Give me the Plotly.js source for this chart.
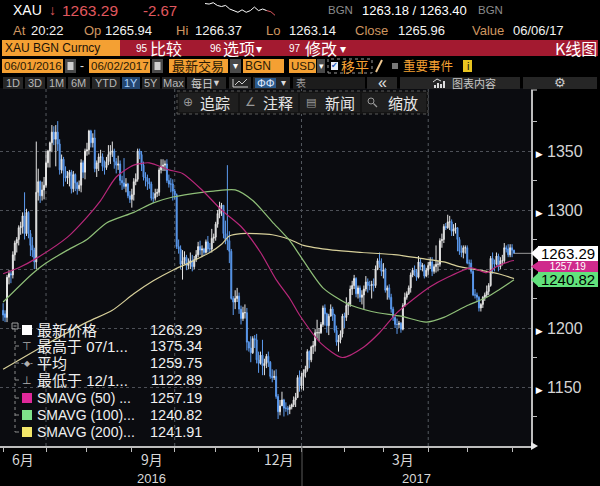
<!DOCTYPE html>
<html><head><meta charset="utf-8">
<script src="https://cdn.plot.ly/plotly-3.0.1.min.js"></script>
<style>html,body{margin:0;padding:0;background:#000;}#chart{width:600px;height:486px;}</style>
</head><body><div id="chart"></div>
<script>
// ---------------- DATA ----------------
const startDate = '2016-06-01', endDate = '2017-06-02';

const openPx = [
 1215,1212,1209,1243,1246,1245,1262,1272,1275,1285,1286,1295,1280,1298,1280,1270,1266,1256,1315,1324,1312,1317,
 1321,1340,1350,1357,1366,1360,1366,1356,1334,1343,1333,1327,1329,1332,1318,1330,1323,1318,1321,1340,1332,
 1350,1351,1367,1357,1361,1335,1340,1345,1345,1337,1336,1341,1347,1349,1350,1341,1338,1339,1325,1323,1320,1322,1312,
 1309,1313,1324,1326,1350,1347,1338,1328,1327,1324,1322,1310,1310,1314,1315,1334,1337,1338,1339,1325,1322,1322,
 1316,1313,1269,1267,1254,1257,1260,1253,1255,1257,1252,1258,1262,1269,1266,1267,1264,1273,1267,1267,1276,
 1277,1288,1297,1303,1304,1280,1275,1274,1265,1225,1222,1225,1227,1216,1208,1213,1213,1188,1183,1179,1191,1190,
 1173,1170,1177,1168,1170,1176,1171,1159,1158,1159,1142,1129,1134,1139,1132,1132,1131,1133,1135,1139,1141,1158,
 1151,1159,1162,1165,1180,1173,1184,1185,1196,1196,1196,1203,1217,1212,1202,1210,1216,1211,1198,1188,1190,1195,
 1210,1209,1219,1220,1233,1236,1242,1229,1234,1226,1228,1233,1239,1236,1236,1237,1236,1250,1257,1254,
 1248,1249,1232,1234,1226,1216,1209,1203,1203,1204,1199,1219,1226,1229,1234,1245,1249,1247,1243,1256,1252,1253,1244,
 1249,1253,1256,1248,1252,1254,1254,1274,1275,1286,1285,1290,1290,1282,1284,1285,1275,1265,1264,1268,
 1268,1255,1255,1248,1228,1228,1226,1217,1220,1226,1228,1231,1236,1259,1254,1254,1261,1252,1257,1257,1268,1267,1262,
 1268,1265.94];
const highPx = [
 1221,1215,1245,1249,1248,1265,1274,1277,1287,1290,1298,1315,1301,1299,1283,1277,1268,1358,1335,1325,1324,1328,
 1350,1351,1358,1372,1371,1372,1375.34,1360,1347,1345,1337,1333,1334,1334,1333,1331,1324,1325,1343,1342,1352,
 1357,1368,1368,1365,1368,1342,1348,1351,1348,1342,1345,1355,1355,1358,1352,1344,1346,1342,1329,1344,1327,1323,1316,
 1318,1327,1331,1352,1352,1350,1341,1332,1330,1327,1324,1315,1318,1318,1336,1343,1343,1342,1343,1330,1327,1326,
 1318,1314,1275,1270,1266,1265,1262,1259,1264,1262,1261,1266,1273,1274,1270,1268,1275,1278,1272,1284,1280,
 1290,1300,1307,1306,1304,1291,1338,1282,1267,1227,1232,1234,1230,1219,1218,1220,1217,1189,1193,1193,1194,1195,
 1180,1180,1190,1174,1178,1180,1172,1165,1164,1165,1144,1139,1146,1140,1137,1134,1135,1136,1142,1145,1160,1164,
 1162,1165,1168,1182,1181,1185,1189,1199,1207,1200,1205,1219,1220,1213,1212,1220,1218,1212,1202,1194,1198,1212,
 1213,1226,1222,1236,1240,1245,1243,1236,1236,1232,1236,1244,1242,1240,1240,1242,1253,1259,1264,1259,
 1255,1251,1236,1237,1229,1218,1210,1208,1206,1205,1221,1230,1231,1236,1247,1251,1253,1250,1261,1259,1255,1254,1251,
 1256,1260,1260,1254,1270,1257,1276,1280,1288,1289,1296,1295,1292,1288,1289,1285,1277,1270,1270,1270,
 1270,1258,1258,1249,1233,1230,1227,1221,1227,1230,1236,1238,1261,1264,1258,1264,1263,1260,1262,1272,1270,1271,1271,
 1271,1266.37];
const lowPx = [
 1206,1205,1205,1237,1238,1242,1257,1264,1270,1279,1280,1275,1278,1276,1261,1260,1250,1250,1308,1306,1308,1309,
 1319,1336,1336,1349,1355,1337,1350,1330,1331,1320,1324,1322,1320,1314,1315,1316,1313,1316,1315,1327,1326,
 1346,1347,1353,1353,1332,1328,1333,1340,1333,1330,1334,1338,1339,1345,1335,1331,1334,1321,1317,1318,1315,1310,1306,
 1302,1308,1321,1324,1343,1333,1325,1320,1317,1318,1308,1306,1308,1311,1312,1331,1333,1333,1323,1319,1315,1308,
 1309,1267,1263,1250,1241,1254,1249,1250,1250,1248,1250,1256,1260,1262,1260,1261,1263,1264,1264,1264,1272,
 1274,1285,1293,1295,1276,1271,1266,1255,1224,1211,1216,1222,1212,1203,1206,1208,1181,1180,1171,1178,1183,1170,
 1162,1169,1160,1160,1166,1167,1157,1154,1156,1140,1122.89,1126,1134,1125,1129,1126,1127,1131,1133,1133,1141,1146,
 1148,1147,1158,1163,1166,1171,1178,1180,1191,1189,1195,1201,1202,1196,1194,1210,1206,1196,1185,1180,1187,1192,
 1200,1206,1211,1218,1228,1233,1226,1225,1222,1220,1216,1231,1230,1232,1225,1231,1234,1249,1251,1244,
 1242,1230,1224,1224,1213,1206,1200,1195,1200,1196,1198,1218,1224,1228,1230,1243,1244,1240,1242,1249,1248,1242,1243,
 1245,1250,1244,1246,1247,1248,1252,1268,1272,1283,1284,1283,1278,1278,1280,1265,1262,1260,1259,1263,
 1254,1250,1246,1227,1225,1223,1214,1214,1217,1223,1226,1228,1235,1246,1248,1253,1248,1250,1253,1255,1264,1260,1260,
 1260,1263.14];
const closePx = [
 1211,1209,1243,1246,1245,1262,1272,1275,1285,1286,1295,1280,1298,1280,1270,1266,1256,1315,1324,1312,1317,1321,
 1340,1350,1357,1366,1360,1366,1356,1334,1343,1333,1327,1329,1332,1318,1330,1323,1318,1321,1340,1332,1350,
 1351,1367,1357,1361,1335,1340,1345,1345,1337,1336,1341,1347,1349,1350,1341,1338,1339,1325,1323,1320,1322,1312,1309,
 1313,1324,1326,1350,1347,1338,1328,1327,1324,1322,1310,1310,1314,1315,1334,1337,1338,1339,1325,1322,1322,1316,
 1313,1269,1267,1254,1257,1260,1253,1255,1257,1252,1258,1262,1269,1266,1267,1264,1273,1267,1267,1276,1277,
 1288,1297,1303,1304,1280,1275,1274,1265,1225,1222,1225,1227,1216,1208,1213,1213,1188,1183,1179,1191,1190,1173,
 1170,1177,1168,1170,1176,1171,1159,1158,1159,1142,1129,1134,1139,1132,1132,1131,1133,1135,1139,1141,1158,1151,
 1159,1162,1165,1180,1173,1184,1185,1196,1196,1196,1203,1217,1212,1202,1210,1216,1211,1198,1188,1190,1195,1210,
 1209,1219,1220,1233,1236,1242,1229,1234,1226,1228,1233,1239,1236,1236,1237,1236,1250,1257,1254,1248,
 1249,1232,1234,1226,1216,1209,1203,1203,1204,1199,1219,1226,1229,1234,1245,1249,1247,1243,1256,1252,1253,1244,1249,
 1253,1256,1248,1252,1254,1254,1274,1275,1286,1285,1290,1290,1282,1284,1285,1275,1265,1264,1268,1268,
 1255,1255,1248,1228,1228,1226,1217,1220,1226,1228,1231,1236,1259,1254,1254,1261,1252,1257,1257,1268,1267,1262,1268,
 1265.96,1263.29];

const ma50Dates = ['2016-06-01','2016-06-13','2016-06-24','2016-07-18','2016-08-01','2016-08-10','2016-08-22','2016-09-02','2016-09-14','2016-09-28','2016-10-07','2016-10-21','2016-11-04','2016-11-18','2016-12-02','2016-12-14','2016-12-23','2016-12-30','2017-01-16','2017-01-31','2017-02-15','2017-02-27','2017-03-10','2017-03-22','2017-04-04','2017-04-17','2017-05-03','2017-05-15','2017-05-22','2017-06-01','2017-06-02'];
const ma50Vals  = [1246,1251,1259,1277,1294,1308,1328,1338,1340,1334,1331,1317,1300,1286,1264,1241,1225,1211,1187,1175,1184,1196,1213,1224,1235,1243,1251,1247,1252,1257,1257.19];

const ma100Dates = ['2016-06-01','2016-06-22','2016-07-01','2016-07-18','2016-08-01','2016-08-15','2016-09-02','2016-09-16','2016-09-30','2016-10-21','2016-10-31','2016-11-15','2016-11-28','2016-12-12','2016-12-23','2016-12-30','2017-01-17','2017-02-02','2017-02-21','2017-03-14','2017-03-31','2017-04-13','2017-05-01','2017-05-15','2017-05-23','2017-06-02'];
const ma100Vals  = [1222,1246,1255,1266,1275,1289,1298,1306,1311,1315,1316,1317,1308,1290,1274,1262,1234,1221,1214,1210,1205,1209,1219,1226,1232,1240.82];

const ma200Dates = ['2016-06-01','2016-07-01','2016-08-01','2016-08-18','2016-09-02','2016-09-16','2016-09-30','2016-10-12','2016-10-27','2016-11-04','2016-11-10','2016-11-18','2016-12-12','2016-12-23','2017-01-03','2017-01-24','2017-02-14','2017-03-10','2017-03-28','2017-04-13','2017-04-25','2017-05-15','2017-05-23','2017-06-02'];
const ma200Vals  = [1165,1186,1205,1215,1229,1240,1249,1255,1264,1271,1278,1280,1279,1275,1270,1266,1264,1262,1259,1256,1252,1248,1246,1241.91];

const avgPrice = 1259.75;
const sparkVals = [1267.6,1267.4,1267.9,1266.9,1266.5,1266.9,1265.6,1265.0,1264.4,1265.3,1264.4,1265.0,1266.3,1265.0,1265.6,1265.0];
const sparkTail = [1265.0,1264.6,1263.3];

const monthTickDates = ['2016-06-01','2016-07-01','2016-08-01','2016-09-01','2016-10-03','2016-11-01','2016-12-01','2017-01-02','2017-02-01','2017-03-01','2017-04-03','2017-05-01','2017-06-01'];
const gridDates = ['2016-07-01','2016-10-03','2017-01-02','2017-04-03'];
const monthLabelDates = ['2016-06-01','2016-09-01','2016-12-01','2017-03-01'];
const monthLabelText = ['6月','9月','12月','3月'];
const yearLabelText = ['2016','2017'];
const yTickVals = [1150,1200,1250,1300,1350];
const yTickText = ['1150','1200','','1300','1350'];
const yMinorVals = [1125,1175,1225,1275,1325,1375];

const legendLabels = ['最新价格','最高于 07/1...','平均','最低于 12/1...','SMAVG (50) ...','SMAVG (100)...','SMAVG (200)...'];

// ---------------- BUILD ----------------
const dates = [];
for (let t = Date.parse(startDate); t <= Date.parse(endDate); t += 86400000) {
  const d = new Date(t), wd = d.getUTCDay();
  if (wd !== 0 && wd !== 6) dates.push(d.toISOString().slice(0, 10));
}
const idx = d => dates.indexOf(d);

const W = 600, H = 486;
const PX = x => x / W, PY = y => 1 - y / H;
const FN = '"Liberation Sans","DejaVu Sans",sans-serif';
const FS = '"Liberation Sans","DejaVu Sans","Noto Sans CJK SC",sans-serif';
const FC = '"Noto Sans CJK SC","Liberation Sans",sans-serif';
const ORANGE = '#f4a033', RED = '#a31a30', TAN = '#cf9660';
const C50 = '#b8287a', C100 = '#8fbf78', C200 = '#d8d09a';

const shapes = [], ann = [];
function T(x, y, text, color, size, family, anchor, extra) {
  ann.push(Object.assign({xref:'paper', yref:'paper', x:PX(x), y:PY(y), text:text, showarrow:false,
    xanchor:anchor || 'left', yanchor:'middle', borderpad:0, borderwidth:0,
    font:{family:family || FS, size:size || 14, color:color || '#fff'}}, extra || {}));
}
function R(x0, y0, x1, y1, fill, lineColor, dash, layer) {
  shapes.push({type:'rect', xref:'paper', yref:'paper', x0:PX(x0), x1:PX(x1), y0:PY(y1), y1:PY(y0),
    fillcolor:fill || 'rgba(0,0,0,0)', layer:layer || 'above',
    line:{width:lineColor ? 1 : 0, color:lineColor || 'rgba(0,0,0,0)', dash:dash || 'solid'}});
}
function L(x0, y0, x1, y1, color, width, dash, layer) {
  shapes.push({type:'line', xref:'paper', yref:'paper', x0:PX(x0), x1:PX(x1), y0:PY(y0), y1:PY(y1),
    layer:layer || 'above', line:{color:color, width:width || 1, dash:dash || 'solid'}});
}
function P(pts, fill) {
  const d = pts.map((p, i) => (i ? 'L' : 'M') + PX(p[0]).toFixed(5) + ',' + PY(p[1]).toFixed(5)).join(' ') + ' Z';
  shapes.push({type:'path', xref:'paper', yref:'paper', path:d, fillcolor:fill, line:{width:0}});
}

// chart background
R(0, 88, 531, 446, '#0b0c10', null, null, 'below');

const lastI = closePx.length - 1;
// ----- header row 1
T(13, 10, 'XAU', '#ffffff', 14, FN);
T(49, 10, '↓', '#e0585f', 14, FS);
T(62, 10, closePx[lastI].toFixed(2), '#e0585f', 15.5, FN);
T(143, 10, (closePx[lastI] - closePx[lastI-1]).toFixed(2), '#e0585f', 15, FN);
T(328, 10, 'BGN', '#8c8c8c', 11.5, FN);
T(362, 10, '1263.18 / 1263.40', '#ffffff', 13, FN);
T(478, 10, 'BGN', '#8c8c8c', 11.5, FN);
// ----- header row 2
[[13,'At',TAN],[31,'20:22','#f2f2f2'],[84,'Op',TAN],[105,openPx[lastI].toFixed(2),'#f2f2f2'],
 [176,'Hi',TAN],[195,highPx[lastI].toFixed(2),'#f2f2f2'],[266,'Lo',TAN],[289,lowPx[lastI].toFixed(2),'#f2f2f2'],
 [355,'Close',TAN],[398,closePx[lastI-1].toFixed(2),'#f2f2f2'],[472,'Value',TAN],[513,'06/06/17','#f2f2f2']]
 .forEach(a => T(a[0], 30, a[1], a[2], 13, FN));
// ----- row 3
R(2, 40, 120, 56, ORANGE);
R(120, 40, 598, 56, RED);
T(5, 48, 'XAU BGN Curncy', '#1a1208', 12, FN);
T(136, 48, '95', '#ffffff', 10, FN); T(150, 48, '比较', '#ffffff', 16, FC);
T(210, 48, '96', '#ffffff', 10, FN); T(223, 48, '选项', '#ffffff', 16, FC); T(256, 49, '▾', '#ffffff', 12, FS);
T(289, 48, '97', '#ffffff', 10, FN); T(305, 48, '修改', '#ffffff', 16, FC); T(340, 49, '▾', '#ffffff', 12, FS);
T(597, 48, 'K线图', '#ffffff', 16, FC, 'right');
// ----- row 4
R(2, 59, 63, 73, ORANGE); T(4, 66, '06/01/2016', '#2a1a05', 11.5, FN);
R(65, 59, 76, 73, '#4a4a4a'); R(67.5, 62, 73.5, 70, '#cfcfcf');
T(80, 66, '-', '#dddddd', 12, FS);
R(89, 59, 150, 73, ORANGE); T(91, 66, '06/02/2017', '#2a1a05', 11.5, FN);
R(152, 59, 163, 73, '#4a4a4a'); R(154.5, 62, 160.5, 70, '#cfcfcf');
R(169, 59, 228, 73, ORANGE); T(172, 66, '最新交易', '#2a1a05', 13, FC);
R(230, 59, 241, 73, '#4a4a4a'); T(235.5, 66, '▾', '#ffffff', 10, FS, 'center');
R(243, 59, 284, 73, ORANGE); T(245, 66, 'BGN', '#2a1a05', 12, FN);
R(289, 59, 316, 73, ORANGE); T(290.5, 66, 'USD', '#2a1a05', 11.5, FN);
R(317, 59, 325, 73, '#4a4a4a'); T(321, 66, '▾', '#ffffff', 9, FS, 'center');
R(328, 59, 372, 73, null, '#9a9a9a', 'dot');
R(331, 62, 338, 70, '#e8eef8'); T(334.5, 66, '✔', '#2a5fbf', 8, '"DejaVu Sans"', 'center');
T(341, 66, '移平', ORANGE, 14, FC);
L(376, 72, 382, 60, '#f0c890', 2);
R(392, 63, 398, 69, '#777777');
T(403, 66, '重要事件', ORANGE, 12.5, FC);
R(463, 60, 472, 72, '#e8c420'); T(467.5, 66, 'i', '#111111', 11, FS, 'center');
// ----- row 5 buttons
[[3,23,'1D'],[25,45,'3D'],[47,66,'1M'],[68,90,'6M'],[92,120,'YTD'],[122,140,'1Y',1],[142,160,'5Y'],[162,185,'Max']]
 .forEach(b => { R(b[0], 77, b[1], 89, b[3] ? '#24466f' : '#262626');
   T((b[0] + b[1]) / 2, 83, b[2], b[3] ? '#a8d2ff' : '#b8b8b8', 11, FN, 'center'); });
R(187, 77, 226, 89, '#262626'); T(191, 83, '每日', '#d0d0d0', 11, FC); T(212, 83, '▼', '#d0d0d0', 9, FS);
R(229, 77, 251, 89, '#262626');
L(233, 79, 233, 87, '#cccccc', 1); L(233, 87, 248, 87, '#cccccc', 1);
L(235, 85, 239, 81, '#cccccc', 1); L(239, 81, 242, 84, '#cccccc', 1); L(242, 84, 247, 79, '#cccccc', 1);
R(253, 77, 290, 89, '#262626'); R(255, 78, 276, 88, '#2b5a8c');
T(265.5, 83, 'ΦΦ', '#e0ecff', 11, FS, 'center'); T(283, 83, '▾', '#dddddd', 10, FS, 'center');
R(293, 77, 365, 89, '#1c1c1c'); T(296, 83, '表', '#a0a0a0', 10, FC);
R(367, 77, 397, 89, '#262626'); T(382, 82, '«', '#e0e0e0', 16, FS, 'center');
R(400, 77, 520, 89, '#262626');
R(434, 85, 436, 88, '#dddddd'); R(437, 83, 439, 88, '#dddddd'); R(440, 84, 442, 88, '#dddddd'); R(443, 81, 445, 88, '#dddddd');
L(433, 82, 437, 79, '#dddddd', 1); L(437, 79, 441, 81, '#dddddd', 1);
T(452, 83, '图表内容', '#c8c8c8', 11, FC);
R(523, 77, 597, 89, '#262626'); T(560, 83, '⚙', '#cccccc', 13, '"DejaVu Sans"', 'center');
// ----- row 6 toolbar
R(177, 91, 428, 114, '#141414', '#5a5a5a', 'dot');
[[179,238],[240,298],[300,360],[362,426]].forEach(b => R(b[0], 93, b[1], 112, '#1f1f1f'));
T(183, 102, '⊕', '#9a9a9a', 12, '"DejaVu Sans"'); T(200, 102, '追踪', '#e6e6e6', 15, FC);
T(245, 102, '∠', '#9a9a9a', 12, '"DejaVu Sans"'); T(263, 102, '注释', '#e6e6e6', 15, FC);
T(306, 102, '▤', '#9a9a9a', 11, '"DejaVu Sans"'); T(325, 102, '新闻', '#e6e6e6', 15, FC);
shapes.push({type:'circle', xref:'paper', yref:'paper', x0:PX(368), x1:PX(374), y0:PY(104), y1:PY(98), line:{color:'#9a9a9a', width:1}});
L(373.5, 103.5, 377, 107, '#9a9a9a', 1.2);
T(388, 102, '缩放', '#e6e6e6', 15, FC);

// ----- axes decorations
L(531, 90, 537, 90, '#d0d0d0', 1);
P([[531, 442], [538, 446], [531, 450]], '#e8e8e8');
L(302, 446, 302, 486, '#5a5a5a', 1);
gridDates.forEach(d => shapes.push({type:'line', xref:'x', yref:'paper', x0:idx(d), x1:idx(d), y0:PY(446), y1:PY(88),
  layer:'below', line:{color:'#555a60', width:1, dash:'dot'}}));
monthLabelDates.forEach((d, i) => ann.push({xref:'x', yref:'paper', x:idx(d), xshift:20, y:PY(459), text:monthLabelText[i],
  showarrow:false, xanchor:'center', yanchor:'middle', borderpad:0, font:{family:FC, size:14, color:'#d8d8d8'}}));
T(151, 478, yearLabelText[0], '#d8d8d8', 13, FS, 'center');
T(416, 478, yearLabelText[1], '#d8d8d8', 13, FS, 'center');

// last price line
shapes.push({type:'line', xref:'x', yref:'y', x0:lastI, x1:270.7, y0:closePx[lastI], y1:closePx[lastI], line:{color:'#9a9a9a', width:1}});

// price tags (pointer + box)
function tag(val, fill, txtColor, h, fs, yshift) {
  shapes.push({type:'path', xref:'paper', yref:'y', xsizemode:'pixel', xanchor:PX(531), ysizemode:'pixel', yanchor:val,
    path:'M0,' + (-yshift) + ' L8,' + (-yshift + h / 2) + ' L8,' + (-yshift - h / 2) + ' Z', fillcolor:fill, line:{width:0}});
  ann.push({xref:'paper', yref:'y', x:PX(538), y:val, yshift:-yshift, xanchor:'left', yanchor:'middle', width:60, height:h, align:'center',
    bgcolor:fill, borderpad:0, borderwidth:0, showarrow:false, text:val.toFixed(2), font:{family:FS, size:fs, color:txtColor}});
}
tag(ma50Vals[ma50Vals.length-1], '#cf2a8c', '#ffffff', 11, 10, 6);
tag(closePx[lastI], '#ffffff', '#000000', 15, 15, 0);
tag(ma100Vals[ma100Vals.length-1], '#62e27c', '#000000', 15, 15, 0);

// ----- legend
const lgY = [330, 346, 363, 380, 398, 415, 432];
const lgVals = [closePx[lastI], Math.max(...highPx), avgPrice, Math.min(...lowPx),
  ma50Vals[ma50Vals.length-1], ma100Vals[ma100Vals.length-1], ma200Vals[ma200Vals.length-1]];
R(12, 323, 18, 329, null, '#a0a0a0');
L(13.5, 326, 16.5, 326, '#a0a0a0', 1);
L(15, 329, 15, 432, '#8a8a8a', 1, 'dot');
lgY.forEach((y, i) => {
  if (i > 0) L(15, y, 19, y, '#8a8a8a', 1);
  T(37, y, legendLabels[i], '#f0f0f0', i >= 4 ? 14 : 15, FS);
  T(202, y, lgVals[i].toFixed(2), '#f0f0f0', 14.5, FS, 'right');
});
R(22, 325, 32, 335, '#ffffff');
T(27, 346, '⊤', '#b0b0b0', 11, '"DejaVu Sans"', 'center');
T(27, 363, '-◆-', '#b0b0b0', 8, '"DejaVu Sans"', 'center');
T(27, 380, '⊥', '#b0b0b0', 11, '"DejaVu Sans"', 'center');
R(22, 393, 32, 403, '#e0289a');
R(22, 410, 32, 420, '#7ee38a');
R(22, 427, 32, 437, '#f2e66a');

// ---------------- TRACES ----------------
const traces = [
  {type:'scatter', mode:'lines', x:ma200Dates, y:ma200Vals, line:{color:C200, width:1.2, shape:'spline', smoothing:0.7}, hoverinfo:'skip'},
  {type:'scatter', mode:'lines', x:ma100Dates, y:ma100Vals, line:{color:C100, width:1.2, shape:'spline', smoothing:0.7}, hoverinfo:'skip'},
  {type:'scatter', mode:'lines', x:ma50Dates, y:ma50Vals, line:{color:C50, width:1.2, shape:'spline', smoothing:0.7}, hoverinfo:'skip'},
  {type:'candlestick', x:dates, open:openPx, high:highPx, low:lowPx, close:closePx, whiskerwidth:0,
   increasing:{line:{color:'#e6e6e6', width:1}, fillcolor:'#d4d4d4'},
   decreasing:{line:{color:'#5d9cf0', width:1}, fillcolor:'#3d7bd6'}, hoverinfo:'skip'},
  {type:'scatter', mode:'lines', xaxis:'x2', yaxis:'y2', x:sparkVals.map((v, i) => i), y:sparkVals, line:{color:'#ffffff', width:1}},
  {type:'scatter', mode:'lines', xaxis:'x2', yaxis:'y2', x:sparkTail.map((v, i) => i + sparkVals.length - 1), y:sparkTail, line:{color:'#e0585f', width:1}}
];

const layout = {
  width:W, height:H, margin:{l:0, r:0, t:0, b:0, pad:0},
  paper_bgcolor:'#000000', plot_bgcolor:'rgba(0,0,0,0)', showlegend:false,
  xaxis:{domain:[0, PX(531)], anchor:'y', type:'category', categoryorder:'array', categoryarray:dates,
    range:[-1.6, 270.7], tickmode:'array', tickvals:monthTickDates, ticks:'outside', ticklen:4, tickcolor:'#bdbdbd',
    showticklabels:false, showgrid:false, showline:true, linecolor:'#bdbdbd', linewidth:1.5, zeroline:false,
    rangeslider:{visible:false}, fixedrange:true, automargin:false},
  yaxis:{domain:[PY(446), PY(90)], anchor:'x', side:'right', range:[1100, 1401.7],
    tickmode:'array', tickvals:yTickVals,
    ticktext:yTickText.map(t => t ? '<span style="font-size:9px;color:#ffffff">▶</span> ' + t : ''),
    ticks:'', showgrid:true, gridcolor:'#4d5057', griddash:'dot', gridwidth:1,
    showline:true, linecolor:'#bdbdbd', linewidth:1.5, zeroline:false,
    minor:{tickmode:'array', tickvals:yMinorVals, ticks:'outside', ticklen:4, tickcolor:'#bdbdbd', showgrid:false},
    tickfont:{family:FS, size:16, color:'#d4d4d4'}, fixedrange:true, automargin:false},
  xaxis2:{domain:[PX(205), PX(275)], anchor:'y2', visible:false, fixedrange:true},
  yaxis2:{domain:[PY(16), PY(2)], anchor:'x2', visible:false, fixedrange:true},
  shapes:shapes, annotations:ann
};

Plotly.newPlot('chart', traces, layout, {displayModeBar:false, staticPlot:true});
</script></body></html>
